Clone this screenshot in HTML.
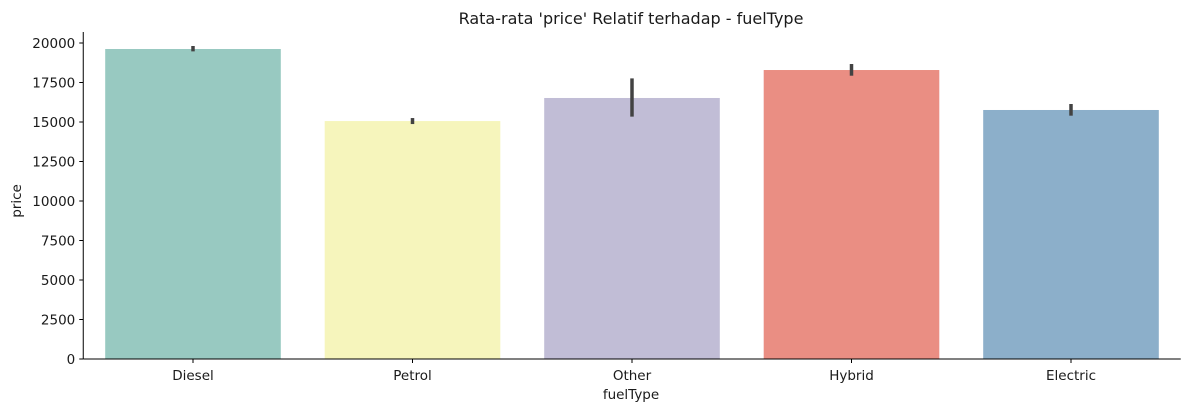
<!DOCTYPE html>
<html><head><meta charset="utf-8"><style>
body{margin:0;background:#fff;}
svg text{font-family:"DejaVu Sans","Liberation Sans",sans-serif;fill:#1a1a1a;}
</style></head><body>
<svg id="chart" width="1189" height="412" xmlns="http://www.w3.org/2000/svg">
<text x="631" y="24" font-size="16" text-anchor="middle">Rata-rata 'price' Relatif terhadap - fuelType</text>
<g id="bars"></g><g id="axes"></g>
<text x="631" y="399" font-size="13.5" text-anchor="middle">fuelType</text>
<text transform="translate(21,201) rotate(-90)" font-size="13.5" text-anchor="middle">price</text>
</svg>
<script>
const categories=["Diesel","Petrol","Other","Hybrid","Electric"];
const values=[19620,15060,16520,18290,15760];
const errLow=[19470,14870,15340,17930,15400];
const errHigh=[19810,15250,17760,18670,16140];
const colors=["#98c9c1","#f6f5bc","#c1bdd6","#ea8e83","#8cafca"];
const yTicks=[0,2500,5000,7500,10000,12500,15000,17500,20000];
const NS="http://www.w3.org/2000/svg";
const x0=83.25,x1=1180.75,y0=359,yTop=32;
function y(v){return y0-v*0.0158;}
function xc(i){return x0+(x1-x0)/categories.length*(i+0.5);}
const bw=(x1-x0)/categories.length*0.8;
function mk(t,a,p){const e=document.createElementNS(NS,t);for(const k in a)e.setAttribute(k,a[k]);p.appendChild(e);return e;}
const bars=document.getElementById('bars'),axes=document.getElementById('axes');
categories.forEach((c,i)=>{
  const r=mk('rect',{x:xc(i)-bw/2,y:y(values[i]),width:bw,height:y0-y(values[i]),fill:colors[i]},bars);
  
  
  const l=mk('line',{x1:xc(i),x2:xc(i),y1:y(errLow[i]),y2:y(errHigh[i]),stroke:'#424242','stroke-width':3.5},bars);
  
  
  mk('line',{x1:xc(i),x2:xc(i),y1:y0,y2:y0+4,stroke:'#000','stroke-width':1},axes);
  const t=mk('text',{x:xc(i),y:y0+21,'font-size':13.5,'text-anchor':'middle'},axes);
  t.textContent=c;
  
  
});
yTicks.forEach(v=>{
  mk('line',{x1:x0-4,x2:x0,y1:y(v),y2:y(v),stroke:'#000','stroke-width':1},axes);
  const t=mk('text',{x:x0-8,y:y(v)+5,'font-size':13.5,'text-anchor':'end'},axes);
  t.textContent=v;
  
  
});
const ys=mk('line',{x1:x0,x2:x0,y1:yTop,y2:y0,stroke:'#000','stroke-width':1},axes);


const xs=mk('line',{x1:x0,x2:x1,y1:y0,y2:y0,stroke:'#000','stroke-width':1},axes);


</script>
</body></html>
